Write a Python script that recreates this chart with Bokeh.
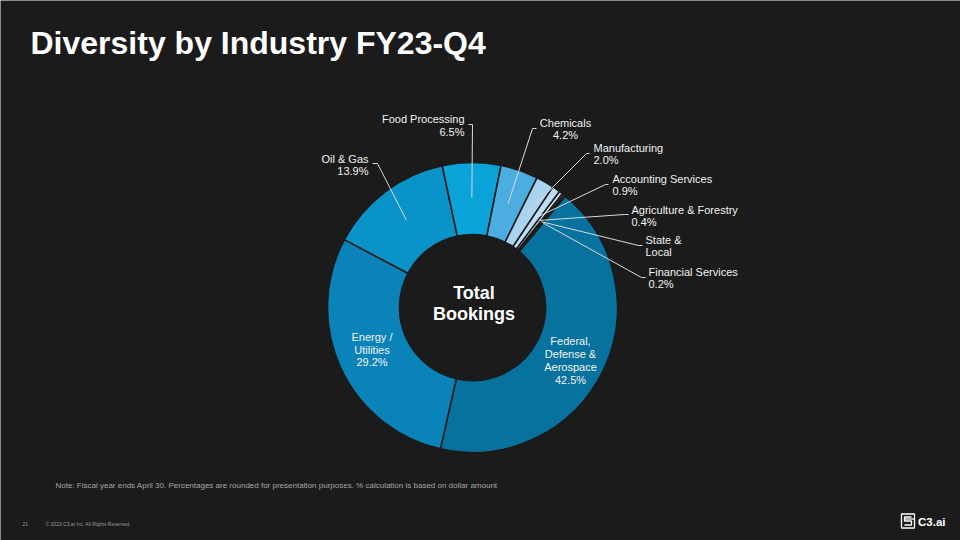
import math
from bokeh.plotting import figure
from bokeh.models import Range1d, ColumnDataSource
from bokeh.core.properties import value
from bokeh.embed import file_html
from bokeh.resources import INLINE

# ---------------- data ----------------
industries = ["Federal, Defense & Aerospace", "Energy / Utilities", "Oil & Gas",
              "Food Processing", "Chemicals", "Manufacturing", "Accounting Services",
              "Agriculture & Forestry", "State & Local", "Financial Services"]
shares = [42.5, 29.2, 13.9, 6.5, 4.2, 2.0, 0.9, 0.4, 0.2, 0.2]
pct_labels = ["42.5%", "29.2%", "13.9%", "6.5%", "4.2%", "2.0%", "0.9%", "0.4%", "", "0.2%"]
label_lines = [["Federal,", "Defense &", "Aerospace"], ["Energy /", "Utilities"], ["Oil & Gas"],
               ["Food Processing"], ["Chemicals"], ["Manufacturing"], ["Accounting Services"],
               ["Agriculture & Forestry"], ["State &", "Local"], ["Financial Services"]]
colors = ["#08729e", "#0a84b8", "#0a93c8", "#0aa3da", "#4caee0", "#a9d4f0",
          "#bddff5", "#cfe7f8", "#cfe7f8", "#cfe7f8"]

title_text = "Diversity by Industry FY23-Q4"
center_lines = ["Total", "Bookings"]
note_text = ("Note: Fiscal year ends April 30. Percentages are rounded for presentation purposes. "
             "% calculation is based on dollar amount")
footer_page = "21"
footer_copy = "\u00a9 2023 C3.ai Inc. All Rights Reserved."
logo_text = "C3.ai"

# ---------------- layout (page pixel coordinates, y down) ----------------
BG = "#1b1b1b"
FONT = "Liberation Sans"
CX, CY = 472, 307
R_OUT, R_IN = 145, 73
START_DEG = 39.8      # clockwise from 12 o'clock, where the first slice starts
LEADER_R = 110

def Y(py):
    return 540 - py

# index -> (elbow_x, elbow_y, hook_x, text_x, first_line_y, align)
outside = {
    2: (377, 163, 372, 368, 158, "right"),
    3: (472, 124, 468, 464, 118.5, "right"),
    4: (532, 128, 536, 565, 122, "center"),
    5: (586, 153, 589, 593, 147, "left"),
    6: (605, 184, 608, 612, 178, "left"),
    7: (624, 214, 628, 631, 209, "left"),
    8: (638, 245, 642, 645, 239, "left"),
    9: (641, 277, 645, 648, 271, "left"),
}
inside = {0: (570, 360), 1: (371.5, 349)}
LINE_H = 12.8

p = figure(width=960, height=540, x_range=Range1d(0, 960), y_range=Range1d(0, 540),
           output_backend="svg", toolbar_location=None, min_border=0,
           x_axis_type=None, y_axis_type=None,
           background_fill_color=BG, border_fill_color=BG, outline_line_color=None)

# ---------------- donut ----------------
total = sum(shares)
starts, ends, mids = [], [], []
acc = START_DEG
for s in shares:
    span = s / total * 360.0
    starts.append(acc)
    ends.append(acc + span)
    mids.append(acc + span / 2)
    acc += span

src = ColumnDataSource(dict(
    x=[CX] * len(shares), y=[Y(CY)] * len(shares),
    start=[math.radians(90 - a) for a in starts],
    end=[math.radians(90 - b) for b in ends],
    color=colors, name=industries, share=shares))
p.annular_wedge(x="x", y="y", inner_radius=R_IN, outer_radius=R_OUT,
                inner_radius_units="screen", outer_radius_units="screen",
                start_angle="start", end_angle="end", direction="clock",
                fill_color="color", line_color=BG, line_width=1.6, source=src)

def txt(x, y, s, size, color="#f2f2f2", align="left", bold=False):
    p.text(x=[x], y=[Y(y)], text=[s], text_font=value(FONT), text_font_size=f"{size}px",
           text_color=color, text_align=align, text_baseline="middle",
           text_font_style="bold" if bold else "normal")

# leaders + outside labels
for i, (ex, ey, hx, tx, ty, al) in outside.items():
    a = math.radians(mids[i])
    sx = CX + LEADER_R * math.sin(a)
    sy = CY - LEADER_R * math.cos(a)
    p.line(x=[sx, ex, hx], y=[Y(sy), Y(ey), Y(ey)], line_color="#d9d9d9", line_width=1)
    lines = label_lines[i] + ([pct_labels[i]] if pct_labels[i] else [])
    for k, ln in enumerate(lines):
        txt(tx, ty + k * LINE_H, ln, 11, align=al)

# inside labels
for i, (tx, tyc) in inside.items():
    lines = label_lines[i] + [pct_labels[i]]
    y0 = tyc - (len(lines) - 1) * LINE_H / 2
    for k, ln in enumerate(lines):
        txt(tx, y0 + k * LINE_H, ln, 11, align="center")

# center text
txt(473.5, 292.5, center_lines[0], 18, color="#ffffff", align="center", bold=True)
txt(473.5, 313.5, center_lines[1], 18, color="#ffffff", align="center", bold=True)

# title, note, footer
txt(30, 42, title_text, 32, color="#ffffff", bold=True)
txt(55, 484.5, note_text, 8, color="#a6a6a6")
txt(22, 523, footer_page, 5, color="#9a9a9a")
txt(45, 523, footer_copy, 5, color="#9a9a9a")

# logo
p.quad(left=[901], right=[914], top=[Y(513.5)], bottom=[Y(527.5)],
       fill_color=None, line_color="#ffffff", line_width=1.3)
p.multi_line(xs=[[911, 904, 904, 911, 911, 904], [904, 914]],
             ys=[[Y(516.5), Y(516.5), Y(520.5), Y(520.5), Y(524.5), Y(524.5)], [Y(518.5), Y(518.5)]],
             line_color="#ffffff", line_width=1.3)
txt(917.5, 521, logo_text, 11.5, color="#ffffff", bold=True)

open("out.html", "w").write(file_html(p, INLINE))
